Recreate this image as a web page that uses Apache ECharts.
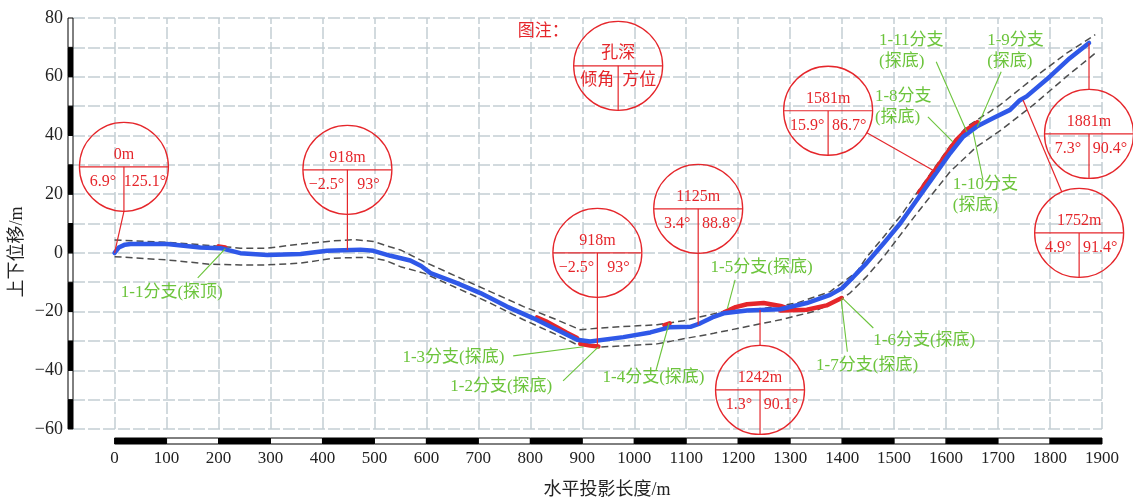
<!DOCTYPE html>
<html><head><meta charset="utf-8">
<script src="https://cdn.jsdelivr.net/npm/echarts@6/dist/echarts.min.js"></script>
<style>html,body{margin:0;padding:0;background:#fff}#c{width:1133px;height:498px}</style>
</head><body><div id="c"></div>
<script>
// ---- axis ticks ----
const xTicks = [0,100,200,300,400,500,600,700,800,900,1000,1100,1200,1300,1400,1500,1600,1700,1800,1900];
const yBarStops = [-60,-50,-40,-30,-20,-10,0,10,20,30,40,50,60,70,80];

// ---- main borehole trajectory (horizontal length m, vertical offset m) ----
const mainTrack = [[0,0],[8,1.8],[20,2.8],[31,3.0],[101,3.0],[165,1.8],[204,1.6],[242,-0.1],[294,-0.7],[358,-0.4],[409,0.7],[473,1.1],[498,0.7],[531,-1.0],[569,-2.6],[590,-4.5],[608,-6.9],[659,-10.3],[704,-13.7],[755,-18.3],[806,-22.3],[851,-26.2],[890,-29.6],[915,-30.2],[979,-28.7],[1031,-27.1],[1069,-25.3],[1108,-25.2],[1127,-24.0],[1150,-22.0],[1172,-20.6],[1217,-19.6],[1281,-19.2],[1332,-17.1],[1377,-14.3],[1400,-12.0],[1420,-8.5],[1447,-3.5],[1480,3.3],[1512,10.1],[1544,18.1],[1576,26.0],[1608,34.0],[1633,39.6],[1659,43.0],[1691,45.9],[1723,48.7],[1742,52.0],[1755,53.3],[1800,60.1],[1838,66.3],[1875,71.5]];
const upperBound = [[0,4.4],[101,3.6],[185,2.5],[242,1.6],[294,1.6],[358,3.0],[422,4.1],[460,4.5],[498,3.9],[531,2.0],[550,1.0],[595,-3.0],[659,-8.1],[723,-13.2],[787,-18.3],[851,-22.8],[896,-26.2],[928,-25.7],[979,-25.1],[1044,-24.5],[1095,-23.1],[1172,-20.0],[1249,-18.9],[1313,-17.1],[1377,-13.2],[1428,-6.5],[1447,-1.5],[1480,5.5],[1512,12.5],[1544,20.5],[1576,28.5],[1608,36.5],[1640,43.0],[1670,46.5],[1704,50.4],[1768,59.5],[1832,68.0],[1887,74.3]];
const lowerBound = [[0,-1.3],[101,-2.4],[185,-3.9],[242,-4.1],[294,-4.1],[358,-3.5],[422,-1.8],[486,-1.5],[520,-2.5],[550,-4.7],[595,-6.9],[659,-12.0],[723,-17.1],[787,-22.8],[851,-27.9],[890,-31.3],[928,-32.1],[979,-31.7],[1044,-31.0],[1088,-29.5],[1153,-27.4],[1217,-25.1],[1281,-22.8],[1345,-20.0],[1396,-16.0],[1415,-13.7],[1447,-8.1],[1480,-1.3],[1544,13.5],[1608,27.7],[1659,36.2],[1704,41.6],[1768,50.4],[1832,60.1],[1887,68.0]];

// ---- branch holes (red) ----
const branch1 = [[200,2.2],[213,1.8]];
const branch3 = [[813,-22.0],[830,-23.3],[851,-25.3],[870,-27.2],[890,-29.0]];
const branch2 = [[896,-31.0],[915,-31.6],[931,-31.9]];
const branch4 = [[1058,-24.6],[1068,-24.0]];
const branch5 = [[1172,-20.3],[1195,-18.5],[1217,-17.5],[1249,-17.1],[1281,-18.1],[1300,-19.2]];
const branch67 = [[1281,-19.6],[1332,-19.4],[1370,-17.9],[1399,-15.4]];
const branch811 = [[1548,20.5],[1576,27.5],[1600,33.5],[1620,38.5],[1640,42.0],[1660,44.5]];

// ---- branch labels ----
const branchNames = ['1-1分支(探顶)','1-3分支(探底)','1-2分支(探底)','1-4分支(探底)','1-5分支(探底)','1-6分支(探底)','1-7分支(探底)','1-8分支\n(探底)','1-11分支\n(探底)','1-9分支\n(探底)','1-10分支\n(探底)'];
const branchTextPos = [[110,-13.6],[652,-35.8],[744,-45.7],[1037,-42.6],[1245,-5.1],[1558,-30.0],[1448,-38.5],[1463,49.6],[1471,68.7],[1679,68.7],[1613,19.8]];
const branchLeaderFrom = [[160,-8.5],[767,-35.1],[863,-43.6],[1042,-39.9],[1194,-9.2],[1460,-25.6],[1410,-33.7],[1565,46.3],[1581,65.1],[1706,61.7],[1671,24.9]];
const branchAnchors = [[213,1.4],[902,-32.0],[931,-32.0],[1067,-23.9],[1179,-19.1],[1400,-15.3],[1398,-15.7],[1613,37.8],[1640,41.2],[1660,42.9],[1652,41.2]];

// ---- survey notes (circles) ----
const noteDepths = ['孔深','0m','918m','1125m','918m','1242m','1581m','1881m','1752m'];
const noteDips   = ['倾角','6.9°','-2.5°','3.4°','-2.5°','1.3°','15.9°','7.3°','4.9°'];
const noteAzis   = ['方位','125.1°','93°','88.8°','93°','90.1°','86.7°','90.4°','91.4°'];
const noteCenters = [[969,63.7],[18,29.3],[448,28.3],[1123,15.0],[929,0.0],[1242,-46.7],[1373,48.4],[1875,40.5],[1856,6.8]];
const noteAnchors = [null,[0,0],[448,1.0],[1123,-24.5],[929,-32.0],[1242,-19.5],[1579,27.7],[1875,71.5],[1748,52.1]];

const RED = '#e5262b', GREEN = '#6cc43c', BLUE = '#2f58e8', GRIDC = '#c4ced3', DASH = '#4e4e4e';
const SERIF = '"Liberation Serif","Noto Sans CJK SC",serif';
const R = 44.5;

function renderNote(params, api) {
  const i = params.dataIndex;
  const c = api.coord(noteCenters[i]);
  const st = {stroke: RED, lineWidth: 1.2};
  const isCJK = i === 0;
  const fs = isCJK ? 17 : 16;
  const children = [
    {type:'circle', shape:{cx:c[0], cy:c[1], r:R}, style:{fill:'none', stroke:RED, lineWidth:1.3}},
    {type:'line', shape:{x1:c[0]-R, y1:c[1], x2:c[0]+R, y2:c[1]}, style:st},
    {type:'line', shape:{x1:c[0], y1:c[1], x2:c[0], y2:c[1]+R}, style:st},
    {type:'text', x:c[0], y:c[1]-12, style:{text:noteDepths[i], fill:RED, fontSize:fs, fontFamily:SERIF, align:'center', verticalAlign:'middle'}},
    {type:'text', x:c[0]-21, y:c[1]+15, style:{text:noteDips[i].replace('-', '−'), fill:RED, fontSize:fs, fontFamily:SERIF, align:'center', verticalAlign:'middle'}},
    {type:'text', x:c[0]+21, y:c[1]+15, style:{text:noteAzis[i], fill:RED, fontSize:fs, fontFamily:SERIF, align:'center', verticalAlign:'middle'}}
  ];
  const a = noteAnchors[i];
  if (a) {
    const p = api.coord(a);
    const dx = p[0]-c[0], dy = p[1]-c[1];
    let s;
    if (Math.abs(dx) < R*0.5) s = [c[0], c[1] + (dy > 0 ? R : -R)];
    else { const d = Math.hypot(dx, dy); s = [c[0]+dx/d*R, c[1]+dy/d*R]; }
    children.push({type:'line', shape:{x1:s[0], y1:s[1], x2:p[0], y2:p[1]}, style:st});
  } else {
    children.push({type:'text', x:c[0]-75, y:c[1]-34, style:{text:'图注：', fill:RED, fontSize:17, fontFamily:SERIF, align:'center', verticalAlign:'middle'}});
  }
  return {type:'group', children};
}

function renderBranch(params, api) {
  const i = params.dataIndex;
  const t = api.coord(branchTextPos[i]);
  const f = api.coord(branchLeaderFrom[i]);
  const p = api.coord(branchAnchors[i]);
  const multi = branchNames[i].indexOf('\n') >= 0;
  return {type:'group', children:[
    {type:'line', shape:{x1:f[0], y1:f[1], x2:p[0], y2:p[1]}, style:{stroke:GREEN, lineWidth:1.1}},
    {type:'text', x:t[0], y:t[1], style:{text:branchNames[i], fill:GREEN, fontSize:17, fontFamily:SERIF, align: multi ? 'left' : 'center', verticalAlign:'middle', lineHeight:21}}
  ]};
}

function renderXBar(params, api) {
  const a = api.coord([api.value(0), 1]);
  const b = api.coord([api.value(1), 0]);
  return {type:'rect', shape:{x:a[0], y:a[1], width:b[0]-a[0], height:b[1]-a[1]},
    style:{fill: params.dataIndex % 2 === 0 ? '#000' : '#fff', stroke:'#000', lineWidth:1}};
}
function renderYBar(params, api) {
  const a = api.coord([0, api.value(1)]);
  const b = api.coord([1, api.value(0)]);
  return {type:'rect', shape:{x:a[0], y:a[1], width:b[0]-a[0], height:b[1]-a[1]},
    style:{fill: params.dataIndex % 2 === 0 ? '#000' : '#fff', stroke:'#000', lineWidth:1}};
}

const xBarData = xTicks.slice(0, -1).map((v, i) => [v, xTicks[i+1], 0.5]);
const yBarData = yBarStops.slice(0, -1).map((v, i) => [v, yBarStops[i+1], 0.5]);

function redLine(data) {
  return {type:'line', data, xAxisIndex:0, yAxisIndex:0, showSymbol:false, symbol:'none', z:3, silent:true,
    lineStyle:{color:RED, width:4.5, cap:'round'}};
}

const chart = echarts.init(document.getElementById('c'));
chart.setOption({
  animation:false,
  grid:[
    {left:73, right:31, top:18, height:411},
    {left:114.6, right:31, top:438, height:6},
    {left:68, width:5, top:18, height:411}
  ],
  xAxis:[
    {gridIndex:0, type:'value', min:-80, max:1900, splitLine:{show:false}, axisLine:{show:false}, axisTick:{show:false},
      axisLabel:{customValues:xTicks, fontSize:17, fontFamily:SERIF, color:'#222', margin:21, formatter: v => String(v)}},
    {gridIndex:1, type:'value', min:0, max:1900, show:false},
    {gridIndex:2, type:'value', min:0, max:1, show:false}
  ],
  yAxis:[
    {gridIndex:0, type:'value', min:-60, max:80, interval:10,
      splitLine:{show:true, lineStyle:{color:GRIDC, width:1.5, type:[12,3]}},
      axisLine:{show:false}, axisTick:{show:false},
      axisLabel:{fontSize:18, fontFamily:SERIF, color:'#222', margin:10,
        formatter: v => (v % 20 === 0 ? String(v).replace('-', '−') : '')}},
    {gridIndex:1, type:'value', min:0, max:1, show:false},
    {gridIndex:2, type:'value', min:-60, max:80, show:false}
  ],
  graphic:[
    {type:'text', x:607, y:490, style:{text:'水平投影长度/m', fontSize:18, fontFamily:SERIF, fill:'#222', align:'center', verticalAlign:'middle'}},
    {type:'text', x:17, y:252, rotation:Math.PI/2, style:{text:'上下位移/m', fontSize:18, fontFamily:SERIF, fill:'#222', align:'center', verticalAlign:'middle'}}
  ],
  series:[
    {type:'line', data:upperBound, showSymbol:false, symbol:'none', z:2, silent:true,
      lineStyle:{color:DASH, width:1.5, type:[7,4]},
      markLine:{silent:true, symbol:['none','none'], label:{show:false}, z:1,
        lineStyle:{color:GRIDC, width:1.5, type:[12,3]},
        data: xTicks.map(v => ({xAxis:v}))}},
    {type:'line', data:lowerBound, showSymbol:false, symbol:'none', z:2, silent:true,
      lineStyle:{color:DASH, width:1.5, type:[7,4]}},
    redLine(branch1), redLine(branch3), redLine(branch2), redLine(branch4),
    redLine(branch5), redLine(branch67), redLine(branch811),
    {type:'line', data:mainTrack, showSymbol:false, symbol:'none', z:4, silent:true,
      lineStyle:{color:BLUE, width:4.5, cap:'round', join:'round'}},
    {type:'custom', data:branchTextPos, renderItem:renderBranch, z:5, clip:false, silent:true,
      encode:{x:0, y:1}},
    {type:'custom', data:noteCenters, renderItem:renderNote, z:6, clip:false, silent:true,
      encode:{x:0, y:1}},
    {type:'custom', data:xBarData, xAxisIndex:1, yAxisIndex:1, renderItem:renderXBar, clip:false, silent:true,
      encode:{x:[0,1], y:2}},
    {type:'custom', data:yBarData, xAxisIndex:2, yAxisIndex:2, renderItem:renderYBar, clip:false, silent:true,
      encode:{y:[0,1], x:2}}
  ]
});
</script>
</body></html>
